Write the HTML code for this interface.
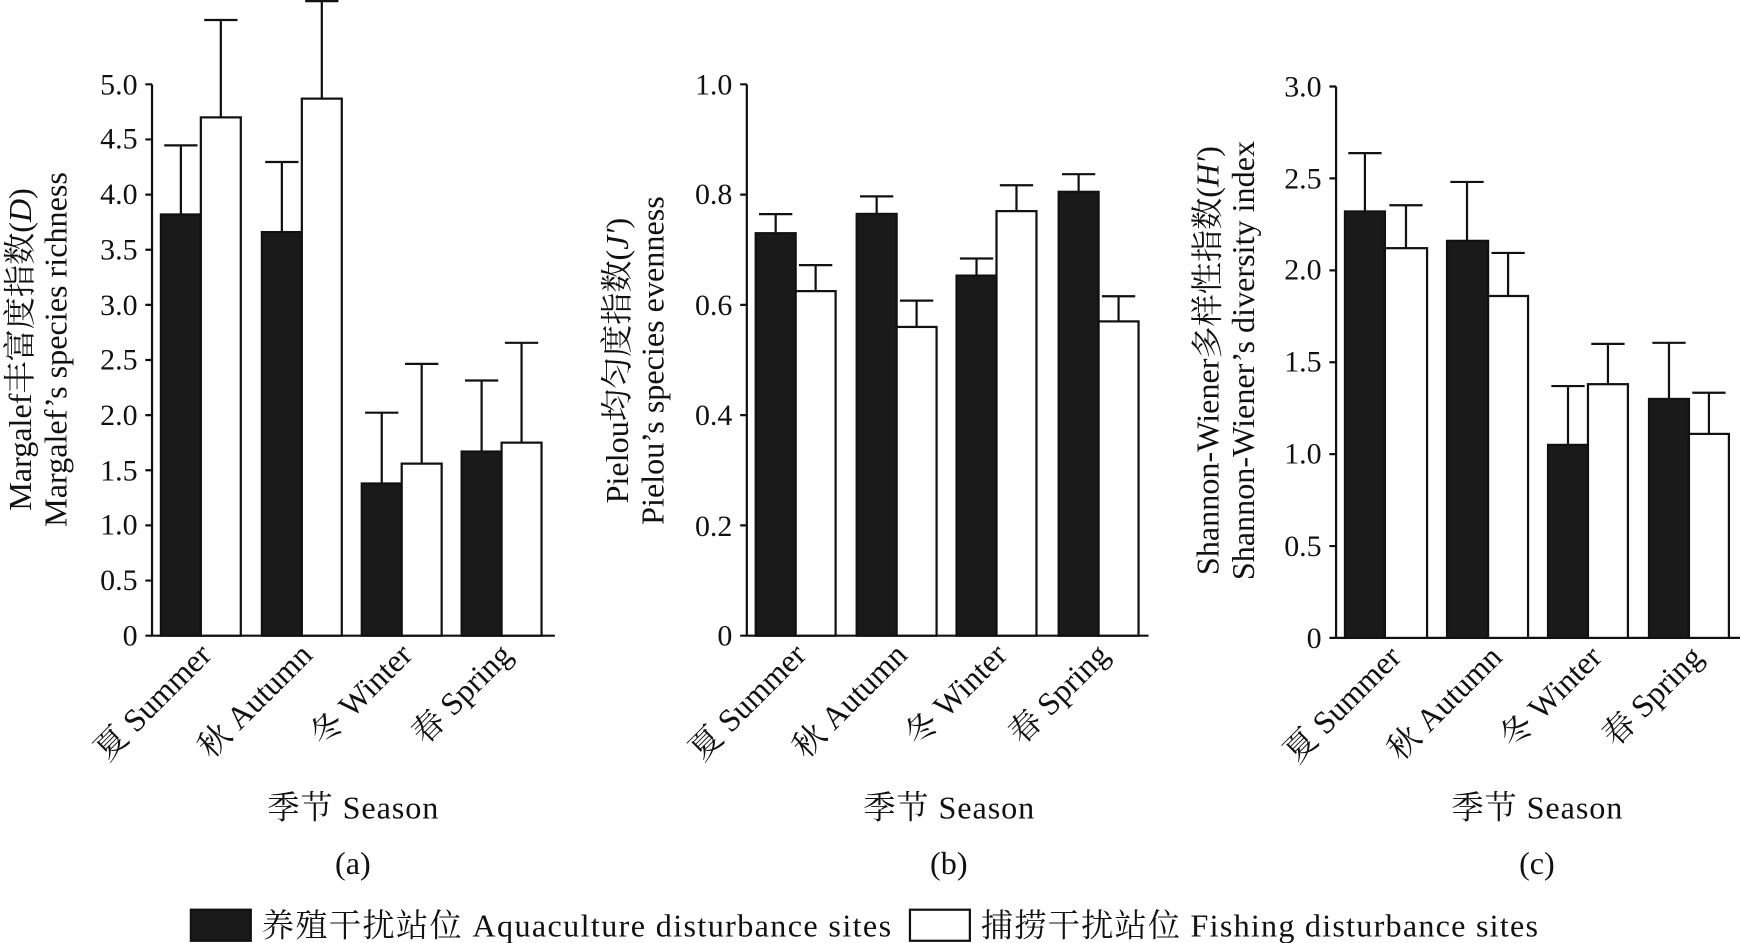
<!DOCTYPE html>
<html><head><meta charset="utf-8"><style>
html,body{margin:0;padding:0;background:#fff;}
svg{display:block;}
text{font-family:"Liberation Serif","Noto Serif CJK SC","Noto Sans CJK SC",serif;fill:#111;}
</style></head><body>
<svg width="1740" height="943" viewBox="0 0 1568 850" preserveAspectRatio="none" xmlns="http://www.w3.org/2000/svg">
<g stroke="#111" stroke-width="2" fill="none">
<path d="M137,76 V573 H500"/>
<path d="M131,573H137M131,523.3H137M131,473.6H137M131,423.9H137M131,374.2H137M131,324.5H137M131,274.8H137M131,225.1H137M131,175.4H137M131,125.7H137M131,76H137"/>
<path d="M673,76 V573 H1035"/>
<path d="M667,573H673M667,473.6H673M667,374.2H673M667,274.8H673M667,175.4H673M667,76H673"/>
<path d="M1204,78 V575 H1568"/>
<path d="M1198,575H1204M1198,492.2H1204M1198,409.3H1204M1198,326.5H1204M1198,243.7H1204M1198,160.8H1204M1198,78H1204"/>
</g>
<g stroke="#111" stroke-width="2">
<rect x="145" y="193.3" width="36" height="379.7" fill="#1a1a1a"/>
<rect x="181" y="105.8" width="36" height="467.2" fill="#fff"/>
<rect x="236" y="209.2" width="36" height="363.8" fill="#1a1a1a"/>
<rect x="272" y="88.9" width="36" height="484.1" fill="#fff"/>
<rect x="326" y="435.8" width="36" height="137.2" fill="#1a1a1a"/>
<rect x="362" y="417.9" width="36" height="155.1" fill="#fff"/>
<rect x="416" y="407" width="36" height="166" fill="#1a1a1a"/>
<rect x="452" y="399" width="36" height="174" fill="#fff"/>
<path fill="none" d="M163,193V131M148,131H178 M199,106V18M184,18H214 M254,209V146M239,146H269 M290,89V0M275,1H305 M344,436V372M329,372H359 M380,418V328M365,328H395 M434,407V343M419,343H449 M470,399V309M455,309H485"/>
<rect x="681" y="210.2" width="36" height="362.8" fill="#1a1a1a"/>
<rect x="717" y="262.4" width="36" height="310.6" fill="#fff"/>
<rect x="772" y="192.8" width="36" height="380.2" fill="#1a1a1a"/>
<rect x="808" y="294.7" width="36" height="278.3" fill="#fff"/>
<rect x="862" y="248.4" width="36" height="324.6" fill="#1a1a1a"/>
<rect x="898" y="190.3" width="36" height="382.7" fill="#fff"/>
<rect x="954" y="172.9" width="36" height="400.1" fill="#1a1a1a"/>
<rect x="990" y="289.7" width="36" height="283.3" fill="#fff"/>
<path fill="none" d="M699,210V193M684,193H714 M735,262V239M720,239H750 M790,193V177M775,177H805 M826,295V271M811,271H841 M880,248V233M865,233H895 M916,190V167M901,167H931 M972,173V157M957,157H987 M1008,290V267M993,267H1023"/>
<rect x="1212" y="190.6" width="36" height="384.4" fill="#1a1a1a"/>
<rect x="1248" y="223.7" width="38" height="351.3" fill="#fff"/>
<rect x="1304" y="217.1" width="37" height="357.9" fill="#1a1a1a"/>
<rect x="1341" y="266.8" width="36" height="308.2" fill="#fff"/>
<rect x="1395" y="401" width="36" height="174" fill="#1a1a1a"/>
<rect x="1431" y="346.3" width="36" height="228.7" fill="#fff"/>
<rect x="1486" y="359.6" width="36" height="215.4" fill="#1a1a1a"/>
<rect x="1522" y="391.1" width="36" height="183.9" fill="#fff"/>
<path fill="none" d="M1230,191V138M1215,138H1245 M1267,224V185M1252,185H1282 M1322,217V164M1307,164H1337 M1359,267V228M1344,228H1374 M1413,401V348M1398,348H1428 M1449,346V310M1434,310H1464 M1504,360V309M1489,309H1519 M1540,391V354M1525,354H1555"/>
</g>
<g font-size="27" text-anchor="end">
<text x="124" y="582">0</text><text x="124" y="532">0.5</text><text x="124" y="482">1.0</text><text x="124" y="433">1.5</text><text x="124" y="383">2.0</text><text x="124" y="333">2.5</text><text x="124" y="284">3.0</text><text x="124" y="234">3.5</text><text x="124" y="184">4.0</text><text x="124" y="134">4.5</text><text x="124" y="85">5.0</text>
<text x="660" y="582">0</text><text x="660" y="483">0.2</text><text x="660" y="383">0.4</text><text x="660" y="284">0.6</text><text x="660" y="184">0.8</text><text x="660" y="85">1.0</text>
<text x="1191" y="584">0</text><text x="1191" y="501">0.5</text><text x="1191" y="418">1.0</text><text x="1191" y="335">1.5</text><text x="1191" y="252">2.0</text><text x="1191" y="170">2.5</text><text x="1191" y="87">3.0</text>
</g>
<g font-size="29" text-anchor="end">
<text transform="translate(192,592) rotate(-45)">夏 Summer</text>
<text transform="translate(283,592) rotate(-45)">秋 Autumn</text>
<text transform="translate(373,592) rotate(-45)">冬 Winter</text>
<text transform="translate(463,592) rotate(-45)">春 Spring</text>
<text transform="translate(728,592) rotate(-45)">夏 Summer</text>
<text transform="translate(819,592) rotate(-45)">秋 Autumn</text>
<text transform="translate(909,592) rotate(-45)">冬 Winter</text>
<text transform="translate(1001,592) rotate(-45)">春 Spring</text>
<text transform="translate(1264,594) rotate(-45)">夏 Summer</text>
<text transform="translate(1355,594) rotate(-45)">秋 Autumn</text>
<text transform="translate(1445,594) rotate(-45)">冬 Winter</text>
<text transform="translate(1536,594) rotate(-45)">春 Spring</text>
</g>
<g font-size="29" text-anchor="middle">
<text x="318" y="738" textLength="154">季节 Season</text>
<text x="855" y="738" textLength="154">季节 Season</text>
<text x="1385" y="738" textLength="154">季节 Season</text>
<text x="318" y="788">(a)</text>
<text x="855" y="788">(b)</text>
<text x="1385" y="788">(c)</text>
<text transform="translate(28,315) rotate(-90)">Margalef丰富度指数(<tspan font-style="italic">D</tspan>)</text>
<text transform="translate(60,315) rotate(-90)">Margalef’s species richness</text>
<text transform="translate(566,325) rotate(-90)">Pielou均匀度指数(<tspan font-style="italic">J′</tspan>)</text>
<text transform="translate(598,325) rotate(-90)">Pielou’s species evenness</text>
<text transform="translate(1098,325) rotate(-90)">Shannon-Wiener多样性指数(<tspan font-style="italic">H′</tspan>)</text>
<text transform="translate(1130,325) rotate(-90)">Shannon-Wiener’s diversity index</text>
</g>
<rect x="172" y="820" width="54" height="28" fill="#1a1a1a" stroke="#111" stroke-width="2"/>
<rect x="820" y="820" width="54" height="28" fill="#fff" stroke="#111" stroke-width="2"/>
<g font-size="29">
<text x="236" y="844" textLength="567">养殖干扰站位 Aquaculture disturbance sites</text>
<text x="884" y="844" textLength="502">捕捞干扰站位 Fishing disturbance sites</text>
</g>
</svg>
</body></html>
